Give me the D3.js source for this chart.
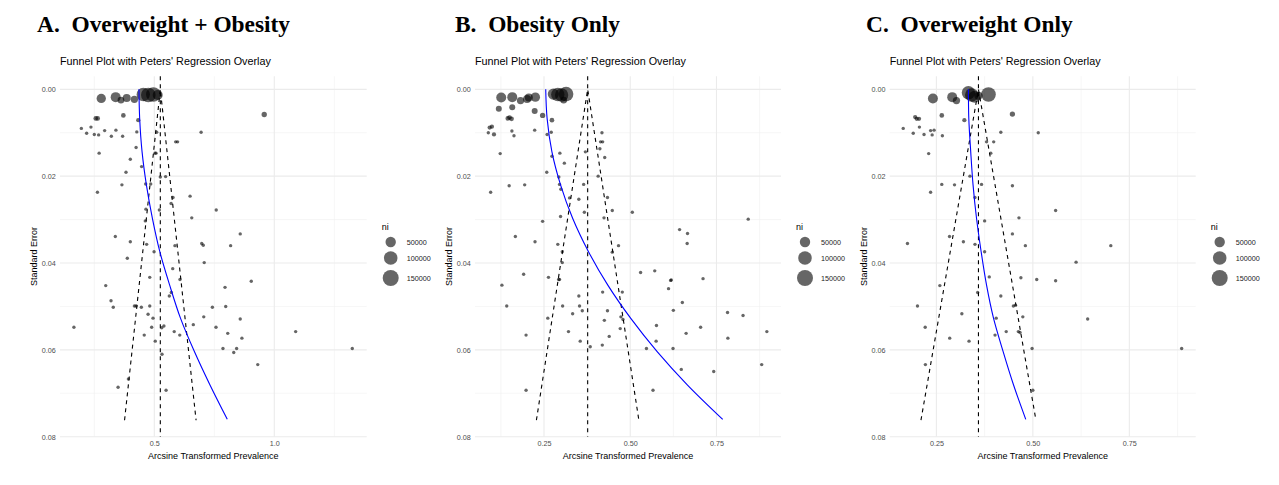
<!DOCTYPE html>
<html>
<head>
<meta charset="utf-8">
<script src="https://cdn.jsdelivr.net/npm/d3@7"></script>
<style>
  html, body { margin: 0; padding: 0; background: #fff; }
  svg { display: block; }
</style>
</head>
<body>
<div id="chart"></div>
<script>
// Funnel plots (arcsine prevalence vs standard error) with Peters' regression overlay.
// Each study: [arcsine prevalence, standard error, ni]

const studiesA = [
  [0.279, 0.0021, 36700], [0.339, 0.0018, 44600], [0.361, 0.0025, 12800], [0.385, 0.0020, 23300],
  [0.417, 0.0023, 17700], [0.454, 0.0012, 95500], [0.475, 0.0013, 121000], [0.496, 0.0012, 121000],
  [0.514, 0.0013, 44600],
  [0.256, 0.0067, 3000], [0.264, 0.0067, 3000], [0.371, 0.0060, 3000], [0.433, 0.0071, 1800], [0.958, 0.0058, 5500],
  [0.196, 0.0090, 300], [0.236, 0.0087, 300], [0.218, 0.0101, 300], [0.250, 0.0104, 300], [0.268, 0.0105, 300],
  [0.293, 0.0095, 300], [0.321, 0.0108, 300], [0.340, 0.0094, 300], [0.368, 0.0108, 300], [0.427, 0.0098, 300],
  [0.510, 0.0099, 300], [0.695, 0.0099, 300], [0.589, 0.0121, 300], [0.597, 0.0121, 300], [0.424, 0.0134, 300],
  [0.503, 0.0147, 300], [0.507, 0.0147, 300], [0.270, 0.0147, 300], [0.400, 0.0161, 300], [0.447, 0.0178, 300],
  [0.382, 0.0191, 300], [0.525, 0.0202, 300], [0.547, 0.0201, 300], [0.464, 0.0218, 300], [0.485, 0.0218, 300],
  [0.365, 0.0220, 300], [0.263, 0.0237, 300], [0.578, 0.0249, 300], [0.649, 0.0246, 300], [0.570, 0.0263, 300],
  [0.465, 0.0276, 300], [0.521, 0.0278, 300], [0.758, 0.0278, 300], [0.656, 0.0296, 300], [0.4625, 0.0303, 300],
  [0.3375, 0.0339, 300], [0.400, 0.0351, 300], [0.468, 0.0357, 300], [0.858, 0.0333, 300], [0.6975, 0.0355, 300],
  [0.704, 0.0359, 300], [0.818, 0.0360, 300],
  [0.499, 0.0374, 300], [0.586, 0.0360, 300], [0.3875, 0.0389, 300], [0.708, 0.0399, 300], [0.607, 0.0438, 300],
  [0.904, 0.0442, 300], [0.481, 0.0433, 300], [0.2975, 0.0452, 300], [0.5767, 0.0413, 300], [0.7946, 0.0456, 300],
  [0.571, 0.0468, 300], [0.5625, 0.0476, 300], [0.3196, 0.0487, 300], [0.329, 0.0502, 300], [0.417, 0.0499, 300],
  [0.424, 0.0499, 300], [0.446, 0.0502, 300], [0.481, 0.0499, 300], [0.742, 0.0502, 300], [0.7975, 0.0500, 300],
  [0.474, 0.0518, 300], [0.4946, 0.0527, 300], [0.706, 0.0524, 300], [0.858, 0.0529, 300], [0.165, 0.0548, 300],
  [0.489, 0.0548, 300], [0.531, 0.0549, 300], [0.540, 0.0545, 300], [0.6625, 0.0542, 300], [0.757, 0.0548, 300],
  [0.583, 0.0558, 300], [0.806, 0.0562, 300], [1.089, 0.0558, 300], [0.458, 0.0566, 300], [0.606, 0.0566, 300],
  [0.865, 0.0573, 300], [0.504, 0.0580, 300], [0.786, 0.0597, 300], [0.843, 0.0597, 300], [0.831, 0.0606, 300],
  [1.325, 0.0597, 300], [0.532, 0.0610, 300], [0.931, 0.0634, 300], [0.392, 0.0667, 300], [0.349, 0.0686, 300],
  [0.549, 0.0693, 300]
];

const studiesB = [
  [0.126, 0.0019, 44600], [0.158, 0.0018, 44600], [0.182, 0.0026, 17700], [0.201, 0.0022, 23300],
  [0.206, 0.0019, 23300], [0.225, 0.0018, 36700], [0.277, 0.0011, 60000], [0.290, 0.0012, 96000],
  [0.301, 0.0013, 96000], [0.314, 0.0011, 121000], [0.307, 0.0025, 12800],
  [0.119, 0.0045, 8800], [0.158, 0.0041, 8800], [0.223, 0.0050, 8800], [0.246, 0.0060, 5500],
  [0.145, 0.0067, 3000], [0.150, 0.0065, 3000], [0.156, 0.0068, 3000], [0.273, 0.0071, 3000],
  [0.0925, 0.0088, 1800], [0.099, 0.0086, 1800], [0.105, 0.0104, 1800],
  [0.0886, 0.0100, 300], [0.157, 0.0096, 300], [0.163, 0.0107, 300], [0.223, 0.0094, 300], [0.259, 0.0104, 300],
  [0.271, 0.0099, 300], [0.418, 0.0100, 300], [0.414, 0.0121, 300], [0.420, 0.0121, 300], [0.123, 0.0148, 300],
  [0.273, 0.0154, 300], [0.296, 0.0147, 300], [0.370, 0.0144, 300], [0.412, 0.0137, 300], [0.426, 0.0157, 300],
  [0.309, 0.0170, 300], [0.258, 0.0191, 300], [0.293, 0.0202, 300], [0.407, 0.0200, 300], [0.149, 0.0222, 300],
  [0.194, 0.0220, 300], [0.295, 0.0219, 300], [0.299, 0.0230, 300], [0.365, 0.0219, 300], [0.0954, 0.0237, 300],
  [0.324, 0.0250, 300], [0.351, 0.0253, 300], [0.434, 0.0249, 300], [0.367, 0.0283, 300], [0.448, 0.0279, 300],
  [0.506, 0.0283, 300], [0.424, 0.0296, 300], [0.298, 0.0293, 300], [0.246, 0.0304, 300], [0.842, 0.0299, 300],
  [0.643, 0.0323, 300], [0.666, 0.0332, 300], [0.167, 0.0339, 300], [0.224, 0.0351, 300], [0.290, 0.0357, 300],
  [0.466, 0.0360, 300], [0.665, 0.0355, 300],
  [0.303, 0.0374, 300], [0.448, 0.0375, 300], [0.303, 0.0399, 300], [0.191, 0.0426, 300], [0.530, 0.0422, 300],
  [0.571, 0.0418, 300], [0.128, 0.0451, 300], [0.263, 0.0433, 300], [0.2925, 0.0438, 300], [0.295, 0.0438, 300],
  [0.617, 0.0440, 300], [0.619, 0.0439, 300], [0.711, 0.0436, 300], [0.420, 0.0467, 300], [0.477, 0.0467, 300],
  [0.611, 0.0459, 300], [0.351, 0.0476, 300], [0.142, 0.0499, 300], [0.304, 0.0499, 300], [0.353, 0.0499, 300],
  [0.361, 0.0510, 300], [0.434, 0.0510, 300], [0.625, 0.0509, 300], [0.651, 0.0491, 300], [0.333, 0.0517, 300],
  [0.782, 0.0514, 300], [0.827, 0.0521, 300], [0.261, 0.0527, 300], [0.425, 0.0532, 300], [0.473, 0.0524, 300],
  [0.479, 0.0530, 300], [0.576, 0.0544, 300], [0.704, 0.0548, 300], [0.471, 0.0551, 300], [0.321, 0.0558, 300],
  [0.896, 0.0558, 300], [0.662, 0.0562, 300], [0.198, 0.0566, 300], [0.439, 0.0569, 300], [0.783, 0.0573, 300],
  [0.355, 0.0580, 300], [0.575, 0.0580, 300], [0.419, 0.0589, 300], [0.384, 0.0593, 300], [0.547, 0.0597, 300],
  [0.624, 0.0597, 300], [0.881, 0.0634, 300], [0.648, 0.0645, 300], [0.742, 0.0650, 300], [0.198, 0.0693, 300],
  [0.566, 0.0693, 300]
];

const studiesC = [
  [0.241, 0.0021, 44600], [0.291, 0.0018, 44600], [0.302, 0.0026, 17700], [0.333, 0.0008, 96000],
  [0.3415, 0.0013, 96000], [0.349, 0.0017, 72000], [0.359, 0.0015, 27000], [0.385, 0.0012, 121000],
  [0.264, 0.0060, 3000], [0.447, 0.0057, 5500], [0.195, 0.0064, 1800], [0.199, 0.0068, 1800],
  [0.205, 0.0068, 1800], [0.3225, 0.0071, 1800],
  [0.164, 0.0090, 300], [0.206, 0.0087, 300], [0.190, 0.0101, 300], [0.218, 0.0104, 300], [0.235, 0.0095, 300],
  [0.244, 0.0094, 300], [0.239, 0.0105, 300], [0.2655, 0.0107, 300], [0.417, 0.0099, 300], [0.514, 0.0100, 300],
  [0.380, 0.0121, 300], [0.3985, 0.0121, 300], [0.230, 0.0148, 300], [0.391, 0.0147, 300], [0.337, 0.0200, 300],
  [0.264, 0.0219, 300], [0.297, 0.0220, 300], [0.367, 0.0219, 300], [0.447, 0.0222, 300], [0.235, 0.0237, 300],
  [0.350, 0.0249, 300], [0.559, 0.0279, 300], [0.464, 0.0296, 300], [0.375, 0.0303, 300], [0.284, 0.0339, 300],
  [0.320, 0.0351, 300], [0.350, 0.0357, 300], [0.175, 0.0355, 300], [0.4806, 0.0360, 300], [0.702, 0.0360, 300],
  [0.447, 0.0333, 300],
  [0.375, 0.0374, 300], [0.612, 0.0398, 300], [0.387, 0.0432, 300], [0.469, 0.0434, 300], [0.510, 0.0438, 300],
  [0.559, 0.0441, 300], [0.259, 0.0452, 300], [0.357, 0.0468, 300], [0.417, 0.0476, 300], [0.201, 0.0499, 300],
  [0.4495, 0.0499, 300], [0.455, 0.0497, 300], [0.316, 0.0517, 300], [0.405, 0.0527, 300], [0.474, 0.0524, 300],
  [0.642, 0.0529, 300], [0.221, 0.0548, 300], [0.431, 0.0558, 300], [0.4624, 0.0558, 300], [0.4667, 0.0560, 300],
  [0.402, 0.0566, 300], [0.2845, 0.0573, 300], [0.3346, 0.0580, 300], [0.498, 0.0597, 300], [0.8856, 0.0597, 300],
  [0.2215, 0.0634, 300], [0.500, 0.0693, 300]
];

// pooled estimate (vertical dashed line)
const pooledA = 0.525, pooledB = 0.3766, pooledC = 0.359;

// funnel limits: [prevalence, se] lower-left, apex, lower-right
const funnelA = [[0.376, 0.0762], [0.525, 0], [0.674, 0.0762]];
const funnelB = [[0.228, 0.0762], [0.3766, 0], [0.525, 0.0762]];
const funnelC = [[0.210, 0.0762], [0.359, 0], [0.508, 0.0762]];

// Peters' regression line: [prevalence, se]
const petersA = [[0.436, 0], [0.439, 0.0067], [0.449, 0.0144], [0.467, 0.0220], [0.492, 0.0297],
  [0.523, 0.0374], [0.564, 0.0451], [0.609, 0.0527], [0.667, 0.0604], [0.732, 0.0681], [0.804, 0.0760]];
const petersB = [[0.255, 0], [0.259, 0.0067], [0.273, 0.0144], [0.298, 0.0220], [0.333, 0.0297],
  [0.379, 0.0374], [0.435, 0.0451], [0.501, 0.0527], [0.578, 0.0604], [0.666, 0.0681], [0.768, 0.0760]];
const petersC = [[0.333, 0], [0.334, 0.0067], [0.339, 0.0144], [0.345, 0.0220], [0.354, 0.0297],
  [0.366, 0.0374], [0.380, 0.0451], [0.398, 0.0527], [0.423, 0.0604], [0.450, 0.0681], [0.4816, 0.0760]];

const panelTitles = ["A.  Overweight + Obesity", "B.  Obesity Only", "C.  Overweight Only"];
const subtitle = "Funnel Plot with Peters' Regression Overlay";
const xTitle = "Arcsine Transformed Prevalence";
const yTitle = "Standard Error";

const yTicks = [0, 0.02, 0.04, 0.06, 0.08];
const yMinor = [0.01, 0.03, 0.05, 0.07];
const xTicksA = [0.5, 1.0], xMinorA = [0.25, 0.75, 1.25];
const xTicksBC = [0.25, 0.5, 0.75], xMinorBC = [0.125, 0.375, 0.625, 0.875];
const legendNi = [50000, 100000, 150000];

// ---- layout ----
const W = 1279, H = 485;
const plotTop = 76.3, plotBottom = 436.7;
const panels = [
  { title: panelTitles[0], titleX: 37, left: 60, right: 366.7, xDomain: [0.107, 1.385],
    data: studiesA, pooled: pooledA, funnel: funnelA, peters: petersA,
    ticks: xTicksA, minor: xMinorA, fmt: d3.format(".1f") },
  { title: panelTitles[1], titleX: 455, left: 475, right: 781, xDomain: [0.05, 0.937],
    data: studiesB, pooled: pooledB, funnel: funnelB, peters: petersB,
    ticks: xTicksBC, minor: xMinorBC, fmt: d3.format(".2f") },
  { title: panelTitles[2], titleX: 866, left: 889.7, right: 1195.7, xDomain: [0.129, 0.922],
    data: studiesC, pooled: pooledC, funnel: funnelC, peters: petersC,
    ticks: xTicksBC, minor: xMinorBC, fmt: d3.format(".2f") }
];

const sans = "'Liberation Sans', Arial, Helvetica, sans-serif";
const serif = "'Liberation Serif', 'Times New Roman', Times, serif";

const svg = d3.select("#chart").append("svg")
  .attr("width", W).attr("height", H)
  .attr("viewBox", `0 0 ${W} ${H}`);

const y = d3.scaleLinear().domain([-0.003, 0.08]).range([plotTop, plotBottom]);
const r = d3.scaleSqrt().domain([0, 150000]).range([1.4, 8]);

function drawPanel(p) {
  const x = d3.scaleLinear().domain(p.xDomain).range([p.left, p.right]);
  const g = svg.append("g");

  // headings
  svg.append("text").attr("x", p.titleX).attr("y", 32)
    .style("font-family", serif).style("font-weight", "bold").style("font-size", "23.4px")
    .style("white-space", "pre").attr("fill", "#000").text(p.title);
  svg.append("text").attr("x", p.left).attr("y", 65)
    .style("font-family", sans).style("font-size", "10.8px").attr("fill", "#000").text(subtitle);

  // grid
  const grid = g.append("g");
  yMinor.forEach(v => grid.append("line").attr("x1", p.left).attr("x2", p.right)
    .attr("y1", y(v)).attr("y2", y(v)).attr("stroke", "#f0f0f0").attr("stroke-width", 0.6));
  p.minor.filter(v => x(v) >= p.left && x(v) <= p.right).forEach(v => grid.append("line")
    .attr("x1", x(v)).attr("x2", x(v)).attr("y1", plotTop).attr("y2", plotBottom)
    .attr("stroke", "#f0f0f0").attr("stroke-width", 0.6));
  yTicks.forEach(v => grid.append("line").attr("x1", p.left).attr("x2", p.right)
    .attr("y1", y(v)).attr("y2", y(v)).attr("stroke", "#ebebeb").attr("stroke-width", 1.1));
  p.ticks.forEach(v => grid.append("line").attr("x1", x(v)).attr("x2", x(v))
    .attr("y1", plotTop).attr("y2", plotBottom).attr("stroke", "#ebebeb").attr("stroke-width", 1.1));

  // axes (no domain line, no ticks, theme_minimal style)
  const ax = g.append("g").attr("transform", `translate(0,${plotBottom})`)
    .call(d3.axisBottom(x).tickValues(p.ticks).tickFormat(p.fmt).tickSize(0).tickPadding(4));
  ax.select(".domain").remove();
  ax.selectAll("text").style("font-family", sans).style("font-size", "7.2px").attr("fill", "#4d4d4d");

  const ay = g.append("g").attr("transform", `translate(${p.left},0)`)
    .call(d3.axisLeft(y).tickValues(yTicks).tickFormat(d3.format(".2f")).tickSize(0).tickPadding(4.3));
  ay.select(".domain").remove();
  ay.selectAll("text").style("font-family", sans).style("font-size", "7.2px").attr("fill", "#4d4d4d");

  g.append("text").attr("x", (p.left + p.right) / 2).attr("y", 459)
    .attr("text-anchor", "middle").style("font-family", sans).style("font-size", "9px")
    .attr("fill", "#000").text(xTitle);
  g.append("text").attr("transform", `translate(${p.left - 23},${(plotTop + plotBottom) / 2}) rotate(-90)`)
    .attr("text-anchor", "middle").style("font-family", sans).style("font-size", "9px")
    .attr("fill", "#000").text(yTitle);

  // studies
  g.append("g").selectAll("circle").data(p.data).enter().append("circle")
    .attr("cx", d => x(d[0])).attr("cy", d => y(d[1])).attr("r", d => r(d[2]))
    .attr("fill", "#000").attr("fill-opacity", 0.6);

  // funnel + pooled estimate
  const line = d3.line().x(d => x(d[0])).y(d => y(d[1]));
  g.append("path").attr("d", line(p.funnel)).attr("fill", "none")
    .attr("stroke", "#000").attr("stroke-width", 1.1).attr("stroke-dasharray", "4,4");
  g.append("line").attr("x1", x(p.pooled)).attr("x2", x(p.pooled))
    .attr("y1", plotTop).attr("y2", plotBottom)
    .attr("stroke", "#000").attr("stroke-width", 1.1).attr("stroke-dasharray", "4,4");

  // Peters' regression
  g.append("path").attr("d", line.curve(d3.curveCatmullRom)(p.peters)).attr("fill", "none")
    .attr("stroke", "#0000ff").attr("stroke-width", 1.1);

  // size legend
  const lg = g.append("g");
  lg.append("text").attr("x", p.right + 15).attr("y", 230)
    .style("font-family", sans).style("font-size", "9px").attr("fill", "#000").text("ni");
  const legY = [242, 258, 278];
  legendNi.forEach((n, i) => {
    lg.append("circle").attr("cx", p.right + 24).attr("cy", legY[i]).attr("r", r(n))
      .attr("fill", "#000").attr("fill-opacity", 0.6);
    lg.append("text").attr("x", p.right + 40).attr("y", legY[i]).attr("dy", "0.35em")
      .style("font-family", sans).style("font-size", "7.2px").attr("fill", "#222").text(n);
  });
}

panels.forEach(drawPanel);
</script>
</body>
</html>
